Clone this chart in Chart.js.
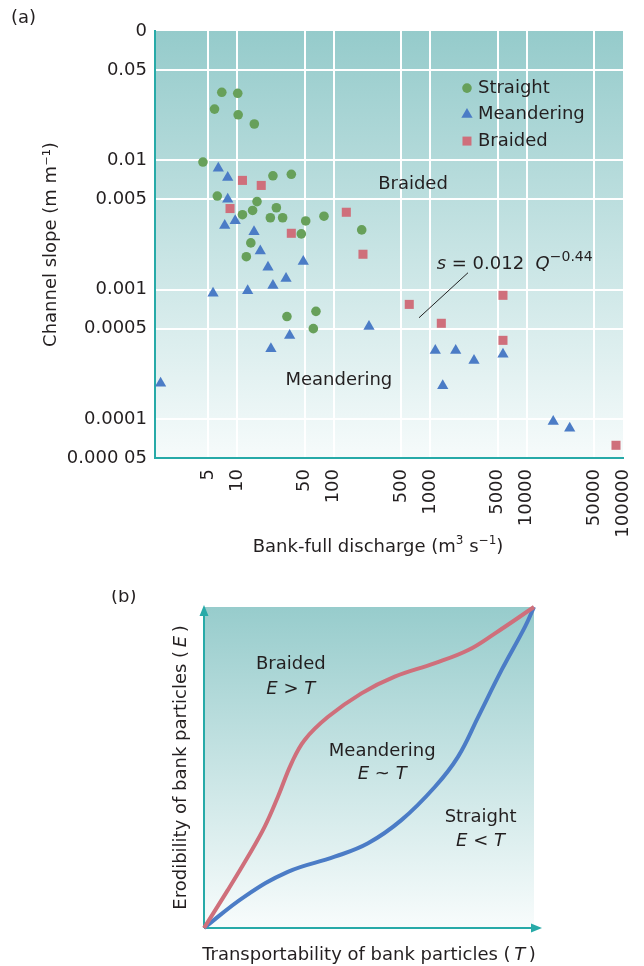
<!DOCTYPE html>
<html>
<head>
<meta charset="utf-8">
<script src="https://cdn.jsdelivr.net/npm/chart.js@4/dist/chart.umd.min.js"></script>
<style>
  body { margin: 0; background: #fff; width: 644px; height: 966px; position: relative; overflow: hidden; }
  #chartA { position: absolute; left: 0; top: 0; }
  #chartB { position: absolute; left: 0; top: 590px; }
</style>
</head>
<body>
<canvas id="chartA" width="644" height="590"></canvas>
<canvas id="chartB" width="644" height="376"></canvas>
<script>
// ---- panel (a) data: bank-full discharge Q (m3/s) vs channel slope s ----
const straightQ = [6.9, 10.1, 5.8, 10.2, 15.0, 4.4, 23.4, 36.3, 6.2, 16.0, 25.4, 11.3, 14.4, 22.0, 29.5, 51.2, 79.2, 46.1, 13.8, 12.4, 32.7, 65.4, 61.4, 195];
const straightS = [0.0336, 0.0330, 0.0249, 0.0225, 0.0191, 0.0097, 0.0076, 0.0078, 0.0053, 0.0048, 0.0043, 0.0038, 0.0041, 0.0036, 0.0036, 0.0034, 0.0037, 0.0027, 0.0023, 0.0018, 0.00062, 0.00068, 0.00050, 0.0029];

const meanderQ = [1.6, 5.6, 6.35, 7.95, 7.95, 7.4, 9.5, 14.9, 17.3, 20.8, 48.3, 32.0, 23.4, 12.8, 34.9, 22.3, 232, 1130, 1840, 2850, 5690, 1350, 18900, 28000];
const meanderS = [0.000189, 0.000939, 0.00869, 0.00737, 0.00500, 0.00313, 0.00341, 0.00281, 0.00199, 0.00149, 0.00165, 0.00122, 0.00108, 0.000983, 0.000443, 0.000349, 0.000520, 0.000339, 0.000339, 0.000283, 0.000317, 0.000181, 0.0000957, 0.0000850];

const braidedQ = [11.3, 17.7, 8.4, 36.3, 135, 201, 607, 1305, 5690, 5690, 84600];
const braidedS = [0.0070, 0.0064, 0.00424, 0.00273, 0.00397, 0.00188, 0.00077, 0.00055, 0.000905, 0.000406, 0.0000627];

const qTicks = [5, 10, 50, 100, 500, 1000, 5000, 10000, 50000, 100000];
const slopeTicks = [0.00005, 0.0001, 0.0005, 0.001, 0.005, 0.01, 0.05, 0.1];
const slopeTickLabels = ['0.000 05', '0.0001', '0.0005', '0.001', '0.005', '0.01', '0.05', '0'];

// ---- panel (b) data: threshold curves, transportability T vs erodibility E ----
const upperT = [0, 0.072, 0.133, 0.184, 0.224, 0.265, 0.305, 0.376, 0.477, 0.578, 0.700, 0.801, 0.882, 1];
const upperE = [0, 0.118, 0.222, 0.316, 0.409, 0.513, 0.586, 0.658, 0.731, 0.783, 0.825, 0.866, 0.918, 1];
const lowerT = [0, 0.123, 0.254, 0.396, 0.497, 0.598, 0.700, 0.770, 0.831, 0.902, 0.973, 1];
const lowerE = [0, 0.098, 0.175, 0.222, 0.264, 0.336, 0.440, 0.534, 0.658, 0.804, 0.939, 1];

//------------------------------------------------------------
const FONT = '"DejaVu Sans", sans-serif';
const INK = '#231f20';
const TEAL = '#27aaa8';
const GREEN = '#67a05a';
const BLUE = '#4b7cc6';
const RED = '#cf6f7b';

const toPts = (xs, ys) => xs.map((x, i) => ({ x, y: ys[i] }));

// text bits with italic / superscript parts
function drawParts(ctx, parts, x, y, align, size) {
    const fontOf = (p) => `${p.it ? 'italic ' : ''}${p.size || size}px ${FONT}`;
    let total = 0;
    parts.forEach((p) => { ctx.font = fontOf(p); total += ctx.measureText(p.t).width; });
    let cx = align === 'center' ? x - total / 2 : x;
    ctx.textAlign = 'left';
    ctx.textBaseline = 'middle';
    parts.forEach((p) => {
        ctx.font = fontOf(p);
        ctx.fillText(p.t, cx, y + (p.dy || 0));
        cx += ctx.measureText(p.t).width;
    });
}

function drawMarker(ctx, style, x, y, color) {
    ctx.fillStyle = color;
    ctx.beginPath();
    if (style === 'circle') {
        ctx.arc(x, y, 4.8, 0, Math.PI * 2);
    } else if (style === 'triangle') {
        const r = 6.5;
        ctx.moveTo(x, y - r);
        ctx.lineTo(x + r * 0.866, y + r / 2);
        ctx.lineTo(x - r * 0.866, y + r / 2);
        ctx.closePath();
    } else {
        ctx.rect(x - 4.5, y - 4.5, 9, 9);
    }
    ctx.fill();
}

// gradient background inside the plot area
const bgPlugin = {
    id: 'bgGradient',
    beforeDraw(chart, args, opts) {
        const { ctx, chartArea: a } = chart;
        const g = ctx.createLinearGradient(0, a.top, 0, a.bottom);
        g.addColorStop(0, opts.top);
        g.addColorStop(1, opts.bottom);
        ctx.save();
        ctx.fillStyle = g;
        ctx.fillRect(a.left, a.top, a.right - a.left, a.bottom - a.top);
        ctx.restore();
    }
};

//------------------------------------------------------------
// Panel (a)

const legendAt = { q: 2409, s: 0.0362, step: 26.5 };
const regionLabelsA = [
    { text: 'Braided', q: 664, s: 0.00657 },
    { text: 'Meandering', q: 113, s: 0.0002 }
];
const eqAt = { q: 1169, s: 0.00158 };
const leader = [{ q: 2469, s: 0.001353 }, { q: 766, s: 0.000607 }];

const annotA = {
    id: 'annotA',
    afterDraw(chart) {
        const { ctx, chartArea: a, scales: { x, y } } = chart;
        ctx.save();
        ctx.fillStyle = INK;
        // panel letter
        ctx.font = `18px ${FONT}`;
        ctx.textAlign = 'left';
        ctx.textBaseline = 'middle';
        ctx.fillText('(a)', 11, 18);

        // x axis title (small superscripts)
        drawParts(ctx, [
            { t: 'Bank-full discharge (m' },
            { t: '3', size: 12, dy: -6 },
            { t: ' s' },
            { t: '\u22121', size: 12, dy: -6 },
            { t: ')' }
        ], (a.left + a.right) / 2 - 11, a.bottom + 89, 'center', 18);

        // legend
        const lx = x.getPixelForValue(legendAt.q);
        let ly = y.getPixelForValue(legendAt.s);
        chart.data.datasets.forEach((ds) => {
            drawMarker(ctx, ds.pointStyle, lx, ly, ds.backgroundColor);
            ctx.fillStyle = INK;
            ctx.font = `18px ${FONT}`;
            ctx.textAlign = 'left';
            ctx.fillText(ds.label, lx + 11, ly);
            ly += legendAt.step;
        });

        // region names
        ctx.textAlign = 'center';
        regionLabelsA.forEach((r) => {
            ctx.fillText(r.text, x.getPixelForValue(r.q), y.getPixelForValue(r.s));
        });

        // fitted relation
        drawParts(ctx, [
            { t: 's', it: true },
            { t: ' = 0.012  ' },
            { t: 'Q', it: true },
            { t: '\u22120.44', size: 14, dy: -7 }
        ], x.getPixelForValue(eqAt.q), y.getPixelForValue(eqAt.s), 'left', 18);

        ctx.strokeStyle = '#222';
        ctx.lineWidth = 1;
        ctx.beginPath();
        ctx.moveTo(x.getPixelForValue(leader[0].q), y.getPixelForValue(leader[0].s));
        ctx.lineTo(x.getPixelForValue(leader[1].q), y.getPixelForValue(leader[1].s));
        ctx.stroke();
        ctx.restore();
    }
};

const gridColor = (edge) => (c) => (c.tick && c.tick.value === edge ? 'rgba(0,0,0,0)' : '#ffffff');

new Chart(document.getElementById('chartA'), {
    type: 'scatter',
    data: {
        datasets: [
            { label: 'Straight', data: toPts(straightQ, straightS), pointStyle: 'circle', pointRadius: 4.8, backgroundColor: GREEN, borderColor: GREEN, pointBorderWidth: 0 },
            { label: 'Meandering', data: toPts(meanderQ, meanderS), pointStyle: 'triangle', pointRadius: 6.5, backgroundColor: BLUE, borderColor: BLUE, pointBorderWidth: 0 },
            { label: 'Braided', data: toPts(braidedQ, braidedS), pointStyle: 'rect', pointRadius: 6.4, backgroundColor: RED, borderColor: RED, pointBorderWidth: 0 }
        ]
    },
    options: {
        responsive: false,
        animation: false,
        events: [],
        layout: { padding: { top: 31, right: 21, bottom: 0, left: 0 } },
        plugins: {
            legend: { display: false },
            tooltip: { enabled: false },
            bgGradient: { top: '#95cbcb', bottom: '#f6fbfb' }
        },
        scales: {
            x: {
                type: 'logarithmic',
                min: 1.4,
                max: 100000,
                afterBuildTicks: (ax) => { ax.ticks = qTicks.map((v) => ({ value: v })); },
                afterFit: (ax) => { ax.height = 132; ax.paddingLeft = 0; ax.paddingRight = 0; },
                ticks: {
                    autoSkip: false, minRotation: 90, maxRotation: 90, padding: 11,
                    color: INK, font: { family: FONT, size: 18 },
                    callback: (v) => String(v)
                },
                grid: { color: gridColor(100000), lineWidth: 2, drawTicks: false },
                border: { display: true, color: TEAL, width: 2 }
            },
            y: {
                type: 'logarithmic',
                min: 0.00005,
                max: 0.1,
                afterBuildTicks: (ax) => { ax.ticks = slopeTicks.map((v) => ({ value: v })); },
                afterFit: (ax) => { ax.width = 155; },
                ticks: {
                    autoSkip: false, padding: 8,
                    color: INK, font: { family: FONT, size: 18 },
                    callback: (v) => slopeTickLabels[slopeTicks.indexOf(v)]
                },
                grid: { color: gridColor(0.1), lineWidth: 2, drawTicks: false },
                border: { display: true, color: TEAL, width: 2 },
                title: {
                    display: true, text: 'Channel slope (m m\u207b\u00b9)',
                    color: INK, font: { family: FONT, size: 18 }, padding: { top: 41, bottom: 0 }
                }
            }
        }
    },
    plugins: [bgPlugin, annotA]
});

//------------------------------------------------------------
// Panel (b)

const regionLabelsB = [
    { name: 'Braided', rel: '>', t: 0.263, e: 0.821, e2: 0.744 },
    { name: 'Meandering', rel: '~', t: 0.54, e: 0.551, e2: 0.479 },
    { name: 'Straight', rel: '<', t: 0.838, e: 0.344, e2: 0.269 }
];

const axesB = {
    id: 'axesB',
    beforeDatasetsDraw(chart) {
        const { ctx, chartArea: a } = chart;
        ctx.save();
        ctx.strokeStyle = TEAL;
        ctx.fillStyle = TEAL;
        ctx.lineWidth = 2;
        ctx.beginPath();
        ctx.moveTo(a.left, a.bottom);
        ctx.lineTo(a.left, a.top + 6);
        ctx.moveTo(a.left, a.bottom);
        ctx.lineTo(a.right, a.bottom);
        ctx.stroke();
        ctx.beginPath();
        ctx.moveTo(a.left, a.top - 2);
        ctx.lineTo(a.left - 4.5, a.top + 9);
        ctx.lineTo(a.left + 4.5, a.top + 9);
        ctx.closePath();
        ctx.fill();
        ctx.beginPath();
        ctx.moveTo(a.right + 8, a.bottom);
        ctx.lineTo(a.right - 3, a.bottom - 4.5);
        ctx.lineTo(a.right - 3, a.bottom + 4.5);
        ctx.closePath();
        ctx.fill();
        ctx.restore();
    },
    afterDraw(chart) {
        const { ctx, chartArea: a, scales: { x, y } } = chart;
        ctx.save();
        ctx.fillStyle = INK;
        ctx.font = `18px ${FONT}`;
        ctx.textAlign = 'left';
        ctx.textBaseline = 'middle';
        ctx.fillText('(b)', 111, 7);

        regionLabelsB.forEach((r) => {
            const px = x.getPixelForValue(r.t);
            ctx.font = `18px ${FONT}`;
            ctx.textAlign = 'center';
            ctx.fillText(r.name, px, y.getPixelForValue(r.e));
            drawParts(ctx, [{ t: 'E', it: true }, { t: ` ${r.rel} ` }, { t: 'T', it: true }],
                px, y.getPixelForValue(r.e2), 'center', 18);
        });

        // axis titles
        drawParts(ctx, [{ t: 'Transportability of bank particles (\u2009' }, { t: 'T', it: true }, { t: '\u2009)' }],
            (a.left + a.right) / 2, a.bottom + 27, 'center', 18);
        ctx.translate(a.left - 23, (a.top + a.bottom) / 2);
        ctx.rotate(-Math.PI / 2);
        drawParts(ctx, [{ t: 'Erodibility of bank particles (\u2009' }, { t: 'E', it: true }, { t: '\u2009)' }],
            0, 0, 'center', 18);
        ctx.restore();
    }
};

new Chart(document.getElementById('chartB'), {
    type: 'scatter',
    data: {
        datasets: [
            { data: toPts(upperT, upperE), showLine: true, borderColor: RED, borderWidth: 4, pointRadius: 0, tension: 0.4, clip: 6 },
            { data: toPts(lowerT, lowerE), showLine: true, borderColor: BLUE, borderWidth: 4, pointRadius: 0, tension: 0.4, clip: 6 }
        ]
    },
    options: {
        responsive: false,
        animation: false,
        events: [],
        layout: { padding: { top: 17, right: 110, bottom: 38, left: 204 } },
        plugins: {
            legend: { display: false },
            tooltip: { enabled: false },
            bgGradient: { top: '#97cccc', bottom: '#f8fcfc' }
        },
        scales: {
            x: { type: 'linear', min: 0, max: 1, display: false },
            y: { type: 'linear', min: 0, max: 1, display: false }
        }
    },
    plugins: [bgPlugin, axesB]
});
</script>
</body>
</html>
